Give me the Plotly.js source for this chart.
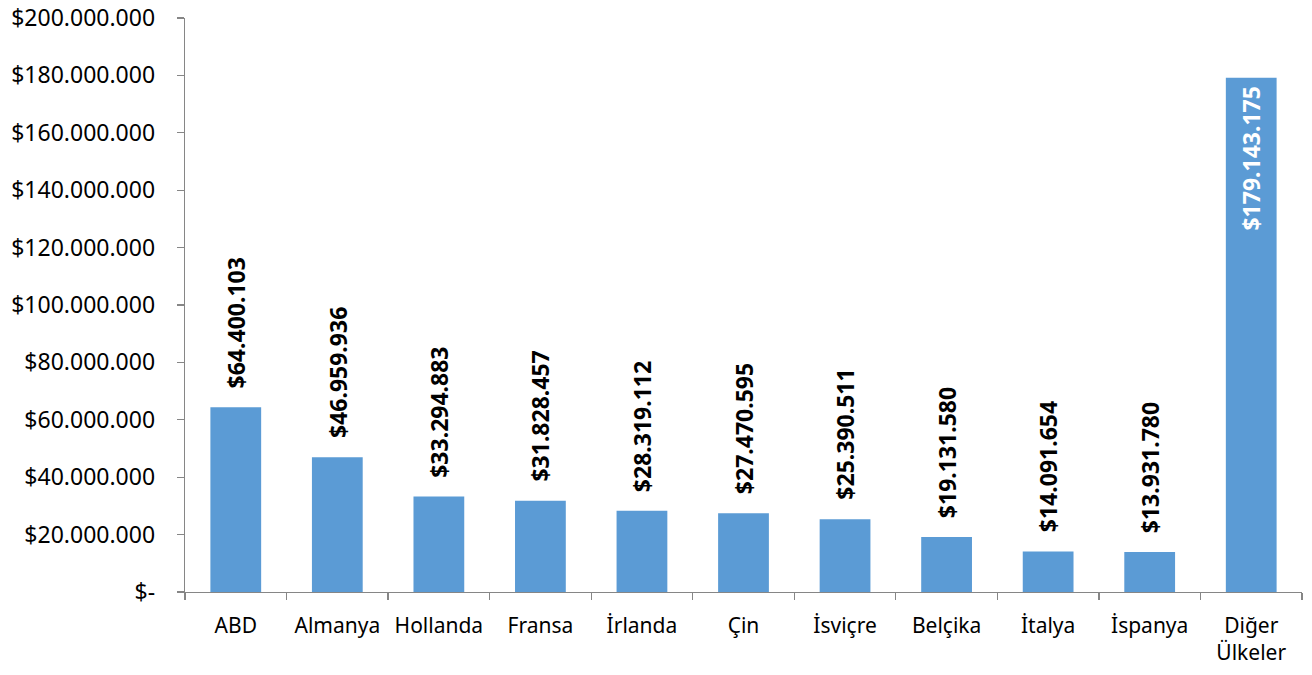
<!DOCTYPE html>
<html>
<head>
<meta charset="utf-8">
<script src="https://cdn.plot.ly/plotly-3.0.1.min.js"></script>
<style>html,body{margin:0;padding:0;background:#fff;}#chart{width:1312px;height:675px;}</style>
</head>
<body>
<div id="chart"></div>
<script>
const categories = ["ABD", "Almanya", "Hollanda", "Fransa", "İrlanda", "Çin", "İsviçre", "Belçika", "İtalya", "İspanya", "Diğer<br>Ülkeler"];
const values = [64400103, 46959936, 33294883, 31828457, 28319112, 27470595, 25390511, 19131580, 14091654, 13931780, 179143175];
const tickVals = [0, 20000000, 40000000, 60000000, 80000000, 100000000, 120000000, 140000000, 160000000, 180000000, 200000000];
const tickText = ["$-", "$20.000.000", "$40.000.000", "$60.000.000", "$80.000.000", "$100.000.000", "$120.000.000", "$140.000.000", "$160.000.000", "$180.000.000", "$200.000.000"];

function fmt(v) {
  return "$" + String(v).replace(/\B(?=(\d{3})+(?!\d))/g, ".");
}

const FONT = "Noto Sans, Open Sans, sans-serif";
const maxIdx = values.indexOf(Math.max(...values));

const annotations = values.map((v, i) => {
  const inside = i === maxIdx;
  return {
    x: categories[i], y: v, xref: "x", yref: "y",
    text: "<b>" + fmt(v) + "</b>",
    showarrow: false, textangle: -90,
    xanchor: "center", yanchor: inside ? "top" : "bottom",
    yshift: inside ? -6 : 17,
    font: {family: FONT, size: 23, color: inside ? "#ffffff" : "#000000"}
  };
});

const data = [{
  type: "bar",
  x: categories,
  y: values,
  marker: {color: "#5B9BD5"},
  hoverinfo: "skip"
}];

const layout = {
  width: 1312, height: 675,
  margin: {l: 185, r: 10, t: 18, b: 83},
  paper_bgcolor: "#fff", plot_bgcolor: "#fff",
  bargap: 0.5,
  showlegend: false,
  font: {family: FONT, size: 21, color: "#000"},
  xaxis: {
    type: "category",
    showline: true, linecolor: "#868686", linewidth: 1.3,
    ticks: "outside", tickson: "boundaries", ticklen: 7, tickcolor: "#868686", tickwidth: 1.3,
    showgrid: false, zeroline: false,
    tickangle: 0,
    tickfont: {family: FONT, size: 21, color: "#000"},
    ticklabelstandoff: 14
  },
  yaxis: {
    range: [0, 200000000],
    tickvals: tickVals, ticktext: tickText,
    showline: true, linecolor: "#868686", linewidth: 1.3,
    ticks: "outside", ticklen: 7, tickcolor: "#868686", tickwidth: 1.3,
    showgrid: false, zeroline: false,
    tickfont: {family: FONT, size: 23, color: "#000"},
    ticklabelstandoff: 17
  },
  annotations: annotations
};

Plotly.newPlot("chart", data, layout, {displayModeBar: false, staticPlot: true});
</script>
</body>
</html>
